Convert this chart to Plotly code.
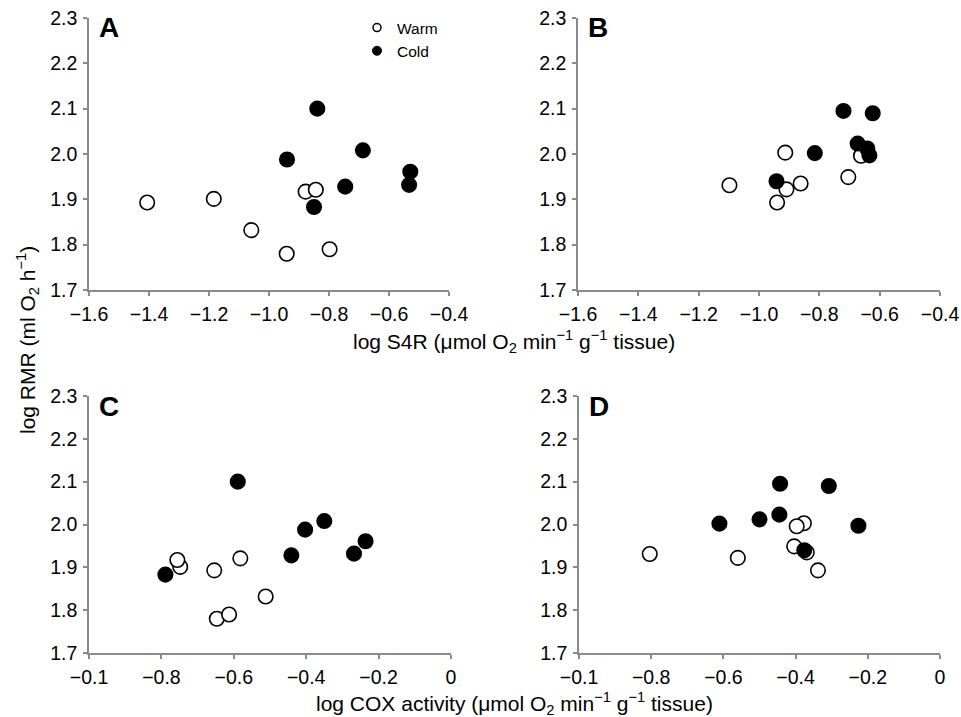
import plotly.graph_objects as go

# ---- data -------------------------------------------------------------
# Panels A and C share one set of animals, panels B and D another.
rmr_ac_warm = [1.893, 1.901, 1.832, 1.780, 1.790, 1.917, 1.921]
rmr_ac_cold = [2.100, 1.988, 2.008, 1.928, 1.883, 1.961, 1.932]
s4r_a_warm = [-1.406, -1.184, -1.059, -0.941, -0.798, -0.878, -0.844]
s4r_a_cold = [-0.839, -0.940, -0.687, -0.746, -0.850, -0.529, -0.533]
cox_c_warm = [-0.654, -0.748, -0.512, -0.647, -0.613, -0.756, -0.582]
cox_c_cold = [-0.589, -0.403, -0.350, -0.441, -0.789, -0.236, -0.268]

rmr_bd_warm = [1.931, 2.003, 1.893, 1.922, 1.935, 1.949, 1.996]
rmr_bd_cold = [2.095, 2.090, 2.002, 1.940, 2.023, 2.012, 1.997]
s4r_b_warm = [-1.098, -0.913, -0.940, -0.909, -0.862, -0.704, -0.662]
s4r_b_cold = [-0.720, -0.623, -0.815, -0.942, -0.673, -0.641, -0.634]
cox_d_warm = [-0.804, -0.377, -0.338, -0.560, -0.369, -0.404, -0.397]
cox_d_cold = [-0.443, -0.308, -0.611, -0.376, -0.445, -0.500, -0.226]

y_ticks = [1.7, 1.8, 1.9, 2.0, 2.1, 2.2, 2.3]
s4r_ticks = [-1.6, -1.4, -1.2, -1.0, -0.8, -0.6, -0.4]
cox_ticks = [-1.0, -0.8, -0.6, -0.4, -0.2, 0.0]
cox_tick_labels = ["\u22120.1", "\u22120.8", "\u22120.6", "\u22120.4", "\u22120.2", "0"]

panel_letters = ["A", "B", "C", "D"]

# ---- styling ----------------------------------------------------------
W, H = 961, 717
FONT = "Liberation Sans, Arial, sans-serif"
AXIS_GREY = "#8a8a8a"
MARKER_SIZE = 14.5
TICK_SIZE = 19.5
TITLE_SIZE = 21


def px_x(p):
    return p / W


def px_y(p):
    return 1 - p / H


fig = go.Figure()

panels = [
    # (xaxis id, yaxis id, x-domain px, y-domain px, x warm, x cold, y warm, y cold)
    ("x", "y", (89, 449), (18, 290), s4r_a_warm, s4r_a_cold, rmr_ac_warm, rmr_ac_cold),
    ("x2", "y2", (578, 940), (18, 290), s4r_b_warm, s4r_b_cold, rmr_bd_warm, rmr_bd_cold),
    ("x3", "y3", (89, 451), (396, 653), cox_c_warm, cox_c_cold, rmr_ac_warm, rmr_ac_cold),
    ("x4", "y4", (579, 940), (396, 653), cox_d_warm, cox_d_cold, rmr_bd_warm, rmr_bd_cold),
]

for i, (xa, ya, xd, yd, xw, xc, yw, yc) in enumerate(panels):
    fig.add_trace(go.Scatter(
        x=xw, y=yw, xaxis=xa, yaxis=ya, mode="markers", showlegend=False,
        marker=dict(size=MARKER_SIZE, color="white", line=dict(color="black", width=1.6)),
    ))
    fig.add_trace(go.Scatter(
        x=xc, y=yc, xaxis=xa, yaxis=ya, mode="markers", showlegend=False,
        marker=dict(size=MARKER_SIZE, color="black", line=dict(color="black", width=1.6)),
    ))

    top_row = i < 2
    xkey = "xaxis" if xa == "x" else "xaxis" + xa[1:]
    ykey = "yaxis" if ya == "y" else "yaxis" + ya[1:]
    common = dict(
        showline=True, linecolor=AXIS_GREY, linewidth=1.5,
        ticks="outside", ticklen=4, tickwidth=1.5, tickcolor=AXIS_GREY,
        showgrid=False, zeroline=False, mirror=False, automargin=False,
        tickfont=dict(family=FONT, size=TICK_SIZE, color="black"),
    )
    if top_row:
        xaxis = dict(range=[-1.6, -0.4], tickvals=s4r_ticks, tickformat=".1f", **common)
    else:
        xaxis = dict(range=[-1.0, 0.0], tickvals=cox_ticks, ticktext=cox_tick_labels, **common)
    xaxis.update(domain=[px_x(xd[0]), px_x(xd[1])], anchor=ya, ticklabelstandoff=2)
    yaxis = dict(range=[1.7, 2.3], tickvals=y_ticks, tickformat=".1f", **common)
    yaxis.update(domain=[px_y(yd[1]), px_y(yd[0])], anchor=xa, ticklabelstandoff=2)
    fig.update_layout({xkey: xaxis, ykey: yaxis})

    # panel letter
    fig.add_annotation(
        text="<b>%s</b>" % panel_letters[i], xref="paper", yref="paper",
        x=px_x(xd[0] + 8), y=px_y(yd[0] + 10), xanchor="left", yanchor="middle",
        showarrow=False, font=dict(family=FONT, size=28, color="black"),
    )

# legend entries (small symbols)
fig.add_trace(go.Scatter(
    x=[None], y=[None], mode="markers", name="Warm",
    marker=dict(size=8, color="white", line=dict(color="black", width=1.5)),
))
fig.add_trace(go.Scatter(
    x=[None], y=[None], mode="markers", name="Cold",
    marker=dict(size=9, color="black", line=dict(color="black", width=1)),
))

# axis titles
fig.add_annotation(
    text="log S4R (\u03bcmol O<sub>2</sub> min<sup>\u22121</sup> g<sup>\u22121</sup> tissue)",
    xref="paper", yref="paper", x=px_x(514), y=px_y(341),
    xanchor="center", yanchor="middle", showarrow=False,
    font=dict(family=FONT, size=TITLE_SIZE, color="black"),
)
fig.add_annotation(
    text="log COX activity (\u03bcmol O<sub>2</sub> min<sup>\u22121</sup> g<sup>\u22121</sup> tissue)",
    xref="paper", yref="paper", x=px_x(514), y=px_y(703),
    xanchor="center", yanchor="middle", showarrow=False,
    font=dict(family=FONT, size=TITLE_SIZE, color="black"),
)
fig.add_annotation(
    text="log RMR (ml O<sub>2</sub> h<sup>\u22121</sup>)",
    xref="paper", yref="paper", x=px_x(27), y=px_y(340),
    xanchor="center", yanchor="middle", textangle=-90, showarrow=False,
    font=dict(family=FONT, size=TITLE_SIZE, color="black"),
)

fig.update_layout(
    template="none",
    width=W, height=H,
    margin=dict(l=0, r=0, t=0, b=0, pad=0, autoexpand=False),
    paper_bgcolor="white", plot_bgcolor="white",
    font=dict(family=FONT, color="black"),
    showlegend=True,
    legend=dict(
        x=px_x(357), y=px_y(11), xanchor="left", yanchor="top",
        bgcolor="rgba(0,0,0,0)", borderwidth=0,
        font=dict(family=FONT, size=15.5, color="black"),
        itemsizing="trace", tracegroupgap=0,
    ),
)

fig.write_html(
    "out.html",
    post_script="document.body.style.margin = '0';",
)
